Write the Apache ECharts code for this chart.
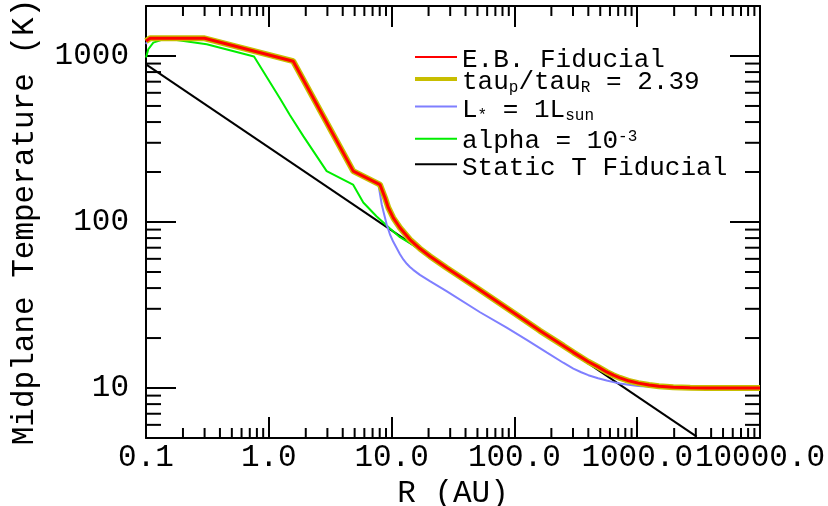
<!DOCTYPE html>
<html><head><meta charset="utf-8">
<script src="https://cdn.jsdelivr.net/npm/echarts@6/dist/echarts.min.js"></script>
<style>html,body{margin:0;padding:0;background:#fff}#c{width:828px;height:506px}</style>
</head><body><div id="c"></div>
<script>
const FONT = '"Courier New", "Nimbus Mono PS", "Liberation Mono", monospace';
const X_MIN = 0.1, X_MAX = 10000, Y_MIN = 5, Y_MAX = 2000;

const xTickValues = [0.1, 1, 10, 100, 1000, 10000];
const xTickLabels = ['0.1', '1.0', '10.0', '100.0', '1000.0', '10000.0'];
const yTickValues = [10, 100, 1000];
const yTickLabels = ['10', '100', '1000'];
const xMinorTicks = [0.2,0.3,0.4,0.5,0.6,0.7,0.8,0.9, 2,3,4,5,6,7,8,9, 20,30,40,50,60,70,80,90,
  200,300,400,500,600,700,800,900, 2000,3000,4000,5000,6000,7000,8000,9000];
const yMinorTicks = [6,7,8,9, 20,30,40,50,60,70,80,90, 200,300,400,500,600,700,800,900];

// E.B. Fiducial (tau_p/tau_R = 2.39 gives the identical curve)
const ebR = [0.1, 0.108, 0.30, 1.58, 4.87, 8.04, 8.84, 9.40, 10.32, 11.7, 14.1, 17.0, 20.5, 28, 50, 100, 161.6, 250, 302, 400, 480, 564, 640, 724, 850, 1020, 1250, 1500, 1968, 2700, 3680, 10000];
const ebT = [1230, 1280, 1278, 930, 202.5, 168, 140, 122, 106, 92.3, 78.4, 69.2, 62.2, 53, 39.9, 28.2, 22.1, 18.0, 16.4, 14.4, 13.4, 12.5, 11.95, 11.5, 11.05, 10.7, 10.42, 10.25, 10.12, 10.05, 10.02, 10.0];
const tauR = ebR.slice();
const tauT = ebT.slice();
// L* = 1 Lsun
const lumR = [0.1, 0.106, 0.30, 1.58, 4.87, 7.8, 8.31, 8.7, 9.12, 9.7, 10.32, 11.7, 12.5, 13.3, 14.1, 15, 17, 20.5, 28, 52.5, 86.5, 126, 183, 250, 302, 350, 400, 480, 564, 640, 724, 850, 1020, 1400, 1968, 3000, 10000];
const lumT = [1180, 1278, 1278, 930, 202.5, 170, 127.5, 111, 96.6, 84.1, 76, 64, 59.3, 56.0, 53.6, 51.5, 48, 44, 38.3, 28.6, 23.1, 19.5, 16.4, 14.2, 13.1, 12.45, 11.95, 11.45, 11.1, 10.85, 10.65, 10.45, 10.3, 10.16, 10.08, 10.03, 10.0];
// alpha = 1e-3
const alphaR = [0.1, 0.1044, 0.1147, 0.1383, 0.1778, 0.312, 0.758, 1.234, 1.488, 1.91, 2.96, 4.85, 5.88, 7.56, 9.7, 11.7, 15, 20.5, 28, 50, 100, 161.6, 250, 302, 400, 564, 724, 1020, 1500, 1968, 3680, 10000];
const alphaT = [978, 1098, 1204, 1261, 1249, 1177, 992, 555, 440, 329, 202.5, 168, 131, 108, 91.4, 81, 72.5, 62.2, 53, 39.9, 28.2, 22.1, 18.0, 16.4, 14.4, 12.5, 11.5, 10.7, 10.25, 10.12, 10.02, 10.0];
// Static T Fiducial
const staticR = [0.1, 3050];
const staticT = [890, 5.1];

const legendNames = ['E.B. Fiducial', 'tau{s|p}/tau{s|R} = 2.39', 'L{s|*} = 1L{s|sun}', 'alpha = 10{u|-3}', 'Static T Fiducial'];
const legendColors = ['#ff0000', '#c8be00', '#7f7fff', '#00ee00', '#000000'];

const zip = (a, b) => a.map((v, i) => [v, b[i]]);
function fmt(values, labels) {
  return function (v) {
    for (let i = 0; i < values.length; i++) {
      if (Math.abs(Math.log10(v) - Math.log10(values[i])) < 1e-6) return labels[i];
    }
    return '';
  };
}

const chart = echarts.init(document.getElementById('c'), null, {renderer: 'canvas'});

function xMinorRender(params, api) {
  const v = api.value(0);
  const b = api.coord([v, Y_MIN]); const t = api.coord([v, Y_MAX]);
  return {type: 'group', children: [
    {type: 'line', shape: {x1: b[0], y1: b[1], x2: b[0], y2: b[1] - 10}, style: {stroke: '#000', lineWidth: 2}},
    {type: 'line', shape: {x1: t[0], y1: t[1], x2: t[0], y2: t[1] + 10}, style: {stroke: '#000', lineWidth: 2}}
  ]};
}
function yMinorRender(params, api) {
  const v = api.value(1);
  const l = api.coord([X_MIN, v]); const r = api.coord([X_MAX, v]);
  return {type: 'group', children: [
    {type: 'line', shape: {x1: l[0], y1: l[1], x2: l[0] + 15, y2: l[1]}, style: {stroke: '#000', lineWidth: 2}},
    {type: 'line', shape: {x1: r[0], y1: r[1], x2: r[0] - 15, y2: r[1]}, style: {stroke: '#000', lineWidth: 2}}
  ]};
}

const axisLine = {show: true, onZero: false, lineStyle: {color: '#000', width: 2}};
const baseX = {type: 'log', logBase: 10, min: X_MIN, max: X_MAX, splitLine: {show: false}, axisLine: axisLine};
const baseY = {type: 'log', logBase: 10, min: Y_MIN, max: Y_MAX, splitLine: {show: false}, axisLine: axisLine};

const legendLineY = [57, 79, 106.5, 138.7, 164.3];
const legendTextY = [47.4, 69.4, 97.4, 128.4, 155.1];
const legendWidths = [2, 4, 2, 2, 2];
const graphic = [];
legendNames.forEach((n, i) => {
  graphic.push({type: 'line', shape: {x1: 415, y1: legendLineY[i], x2: 457, y2: legendLineY[i]},
    style: {stroke: legendColors[i], lineWidth: legendWidths[i]}});
  graphic.push({type: 'text', x: 462, y: legendTextY[i], style: {
    text: n, fill: '#000', fontSize: 26, fontFamily: FONT, lineHeight: 26, verticalAlign: 'top', align: 'left',
    rich: {
      s: {fontSize: 16, fontFamily: FONT, lineHeight: 14, verticalAlign: 'bottom', fill: '#000'},
      u: {fontSize: 16, fontFamily: FONT, lineHeight: 10, verticalAlign: 'top', fill: '#000'}
    }}});
});

chart.setOption({
  animation: false,
  backgroundColor: '#fff',
  grid: {left: 146, right: 68, top: 6, bottom: 68, outerBoundsMode: 'none', containLabel: false},
  xAxis: [
    Object.assign({}, baseX, {position: 'bottom',
      name: 'R (AU)', nameLocation: 'middle', nameGap: 42,
      nameTextStyle: {fontSize: 31, fontFamily: FONT, color: '#000', verticalAlign: 'middle'},
      axisTick: {show: true, inside: true, length: 21, lineStyle: {color: '#000', width: 2}},
      axisLabel: {show: true, formatter: fmt(xTickValues, xTickLabels), fontSize: 31, fontFamily: FONT, color: '#000',
        margin: 20, verticalAlign: 'middle', showMinLabel: true, showMaxLabel: true, hideOverlap: false}}),
    Object.assign({}, baseX, {position: 'top',
      axisTick: {show: true, inside: true, length: 21, lineStyle: {color: '#000', width: 2}},
      axisLabel: {show: false}})
  ],
  yAxis: [
    Object.assign({}, baseY, {position: 'left',
      name: 'Midplane Temperature (K)', nameLocation: 'middle', nameGap: 121,
      nameTextStyle: {fontSize: 31, fontFamily: FONT, color: '#000', verticalAlign: 'middle'},
      axisTick: {show: true, inside: true, length: 30, lineStyle: {color: '#000', width: 2}},
      axisLabel: {show: true, formatter: fmt(yTickValues, yTickLabels), fontSize: 31, fontFamily: FONT, color: '#000',
        margin: 17, padding: [3, 0, 0, 0], hideOverlap: false}}),
    Object.assign({}, baseY, {position: 'right',
      axisTick: {show: true, inside: true, length: 30, lineStyle: {color: '#000', width: 2}},
      axisLabel: {show: false}})
  ],
  graphic: graphic,
  series: [
    {type: 'custom', name: 'xminor', coordinateSystem: 'cartesian2d', xAxisIndex: 0, yAxisIndex: 0,
      data: xMinorTicks.map(v => [v, Y_MIN]), renderItem: xMinorRender, clip: false, silent: true},
    {type: 'custom', name: 'yminor', coordinateSystem: 'cartesian2d', xAxisIndex: 0, yAxisIndex: 0,
      data: yMinorTicks.map(v => [X_MIN, v]), renderItem: yMinorRender, clip: false, silent: true},
    {type: 'line', name: 'Static T Fiducial', data: zip(staticR, staticT), showSymbol: false, symbol: 'none',
      lineStyle: {color: legendColors[4], width: 2}, silent: true},
    {type: 'line', name: 'alpha = 10^-3', data: zip(alphaR, alphaT), showSymbol: false, symbol: 'none',
      lineStyle: {color: legendColors[3], width: 2}, silent: true},
    {type: 'line', name: 'L* = 1Lsun', data: zip(lumR, lumT), showSymbol: false, symbol: 'none',
      lineStyle: {color: legendColors[2], width: 2}, silent: true},
    {type: 'line', name: 'tau_p/tau_R = 2.39', data: zip(tauR, tauT), showSymbol: false, symbol: 'none',
      lineStyle: {color: legendColors[1], width: 6}, silent: true},
    {type: 'line', name: 'E.B. Fiducial', data: zip(ebR, ebT), showSymbol: false, symbol: 'none',
      lineStyle: {color: legendColors[0], width: 3}, silent: true}
  ]
});
</script>
</body></html>
